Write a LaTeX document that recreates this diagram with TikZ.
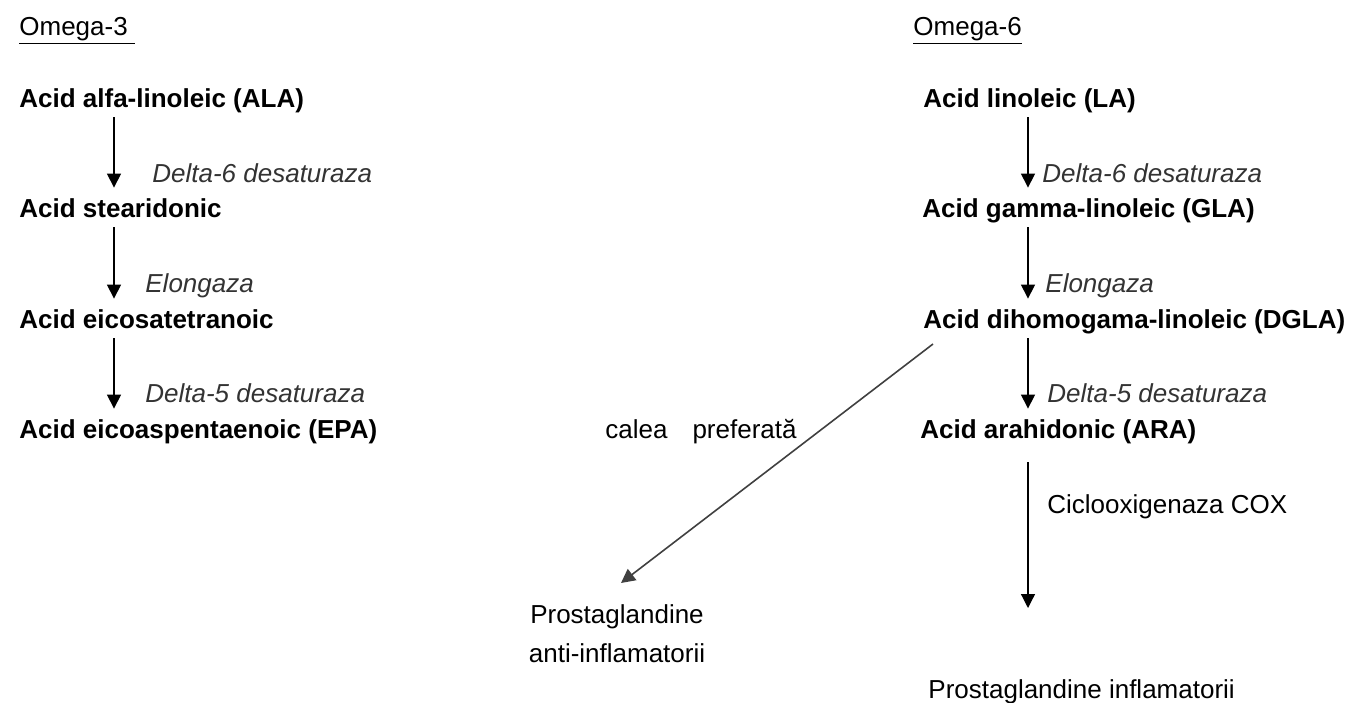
\documentclass[tikz,border=0pt]{standalone}
\usepackage{fontspec}
\setmainfont{Liberation Sans}
\usetikzlibrary{arrows.meta, positioning, calc}
\tikzset{
  acid/.style={anchor=base west, inner sep=0pt, font=\fontsize{13}{15}\selectfont\bfseries,
    text height=9.5pt, text depth=3pt},
  enzyme/.style={anchor=base west, inner sep=0pt, font=\fontsize{13}{15}\selectfont\itshape, text=black!80},
  plain/.style={anchor=base west, inner sep=0pt, font=\fontsize{13}{15}\selectfont},
  arr/.style={-{Triangle[width=7pt,length=7pt]}, line width=0.6pt, shorten <=2pt, shorten >=5pt}
}

\begin{document}
\begin{tikzpicture}[x=0.5pt, y=-0.5pt]
  \useasboundingbox (0,0) rectangle (1349,702);
  \coordinate (colL) at (114,0);
  \coordinate (colR) at (1028,0);
  % omega-3
  \node[plain] (o3) at (19,35) {\underline{Omega-3\ }};
  \node[acid] (ala) at (19,107) {Acid alfa-linoleic (ALA)};
  \node[acid] (sta) at (19,217) {Acid stearidonic};
  \node[acid] (eic) at (19,328) {Acid eicosatetranoic};
  \node[acid] (epa) at (19,438) {Acid eicoaspentaenoic (EPA)};
  \node[enzyme] (d6l) at (152,182) {Delta-6 desaturaza};
  \node[enzyme] (ell) at (145,292) {Elongaza};
  \node[enzyme] (d5l) at (145,402) {Delta-5 desaturaza};
  \draw[arr] (ala.south -| colL) -- (sta.north -| colL);
  \draw[arr] (sta.south -| colL) -- (eic.north -| colL);
  \draw[arr] (eic.south -| colL) -- (epa.north -| colL);
  % omega-6
  \node[plain] (o6) at (913,35) {\underline{Omega-6}};
  \node[acid] (la) at (923,107) {Acid linoleic (LA)};
  \node[acid] (gla) at (922,217) {Acid gamma-linoleic (GLA)};
  \node[acid] (dgla) at (923,328) {Acid dihomogama-linoleic (DGLA)};
  \node[acid] (ara) at (920,438) {Acid arahidonic (ARA)};
  \node[enzyme] (d6r) at (1042,182) {Delta-6 desaturaza};
  \node[enzyme] (elr) at (1045,292) {Elongaza};
  \node[enzyme] (d5r) at (1047,402) {Delta-5 desaturaza};
  \draw[arr] (la.south -| colR) -- (gla.north -| colR);
  \draw[arr] (gla.south -| colR) -- (dgla.north -| colR);
  \draw[arr] (dgla.south -| colR) -- (ara.north -| colR);
  % prostaglandine
  \node[plain] (cale) at (605,438) {calea\hspace{12.5pt}preferată};
  \node[plain, anchor=north, align=center, font=\fontsize{13}{19.5}\selectfont]
    (panti) at (617,604) {Prostaglandine\\anti-inflamatorii};
  \draw[arr, shorten <=0pt, shorten >=0pt, line width=0.8pt, draw=black!75]
    ($(dgla.base west)+(10,16)$) -- ($(panti.north)+(4,-21)$);
  \node[plain] (cox) at (1047,513) {Ciclooxigenaza COX};
  \node[plain] (pinf) at (928,698) {Prostaglandine inflamatorii};
  \coordinate (coxend) at (1028,608);
  \draw[arr, shorten <=9pt, shorten >=0pt] (ara.south -| colR) -- (coxend);
\end{tikzpicture}
\end{document}
